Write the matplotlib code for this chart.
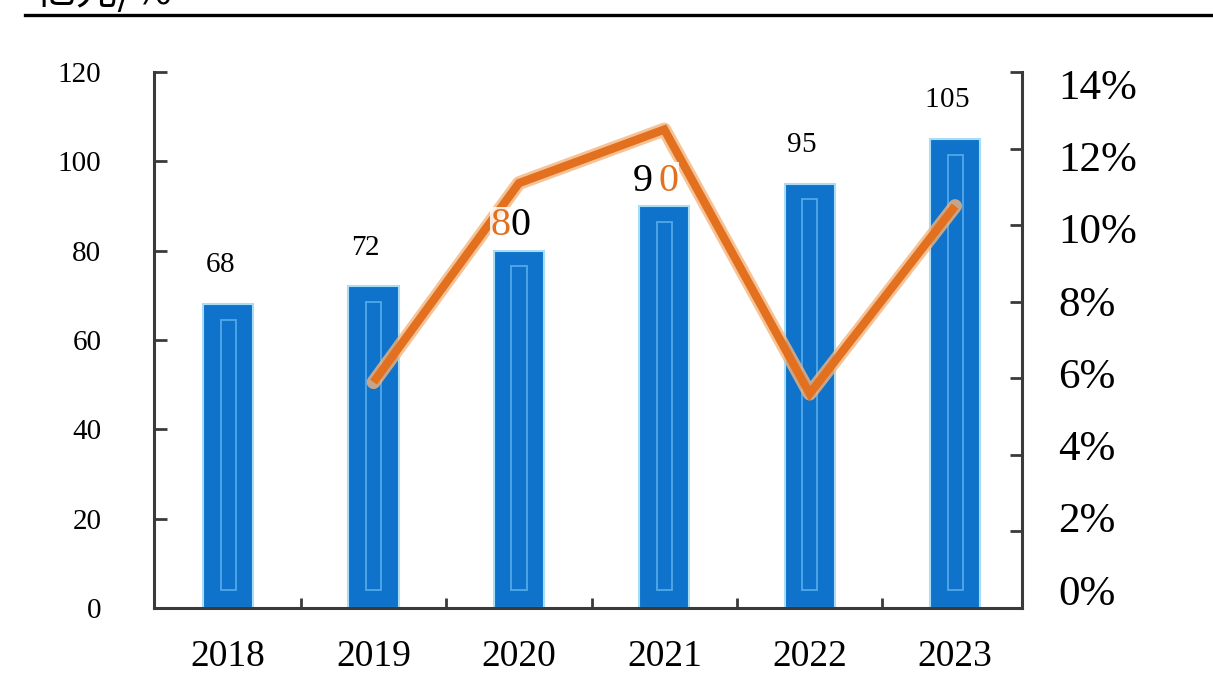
import matplotlib
matplotlib.use("Agg")
import matplotlib.pyplot as plt
from matplotlib.patches import Rectangle
from matplotlib.lines import Line2D
from matplotlib.offsetbox import TextArea, HPacker, AnnotationBbox
import numpy as np

# Market size (left axis) and year-on-year growth (right axis, %)
years = ["2018", "2019", "2020", "2021", "2022", "2023"]
scale = [68, 72, 80, 90, 95, 105]
growth_years = ["2019", "2020", "2021", "2022", "2023"]
growth = [5.9, 11.1, 12.5, 5.6, 10.5]
left_ticks = [0, 20, 40, 60, 80, 100, 120]
right_ticks = [0, 2, 4, 6, 8, 10, 12, 14]
unit_text = "亿元/%"

plt.rcParams['font.family'] = ['Liberation Serif', 'DejaVu Serif']

BAR = '#1073CB'
BAR_EDGE = '#A8DDF5'
INNER = '#52A9EA'
LINE = '#E2701E'
GLOW = '#F3B47C'
SPINE = '#3a3a3a'

fig = plt.figure(figsize=(12.13, 6.74), dpi=100)
fig.patch.set_facecolor('white')
ax = fig.add_axes([0.127, 0.098, 0.7155, 0.795])
ax2 = ax.twinx()
ax3 = ax.twinx()  # carries the percentage labels only

x = np.arange(len(years))
bar_w = 0.345
ax.bar(x, scale, width=bar_w, color=BAR, edgecolor=BAR_EDGE,
       linewidth=1.5, zorder=2)
# lighter inner outline on each bar
for xi, v in zip(x, scale):
    ax.add_patch(Rectangle((xi - 0.052, 4), 0.104, v - 7.5, fill=False,
                           edgecolor=INNER, linewidth=1.3, zorder=3))

ax.set_xlim(-0.51, len(years) - 0.54)
ax.set_ylim(0, 120)
ax.set_yticks(left_ticks)
ax.set_yticklabels([str(t) for t in left_ticks])
ax.tick_params(axis='y', direction='in', length=9, width=2, color=SPINE,
               labelsize=21, pad=38)
ax.set_xticks(x)
ax.set_xticklabels(years)
ax.set_xticks(np.arange(len(years) - 1) + 0.5, minor=True)
ax.tick_params(axis='x', which='major', length=0, labelsize=27, pad=23)
ax.tick_params(axis='x', which='minor', direction='in', length=7, width=2,
               color=SPINE)
for s in ['top', 'right']:
    ax.spines[s].set_visible(False)
for s in ['left', 'bottom']:
    ax.spines[s].set_color(SPINE)
    ax.spines[s].set_linewidth(2.2)

# growth line with soft glow
gx = [years.index(y) for y in growth_years]
ax2.plot(gx, growth, color=GLOW, lw=10, alpha=0.8,
         solid_joinstyle='round', solid_capstyle='round', zorder=2)
ax2.plot(gx, growth, color=LINE, lw=6, solid_joinstyle='miter',
         solid_capstyle='butt', zorder=3)
ax2.set_ylim(0, 14)
ax2.set_yticks(right_ticks)
ax2.set_yticklabels([])
ax2.tick_params(axis='y', direction='in', length=9, width=2, color=SPINE)
for s in ['top', 'left', 'bottom']:
    ax2.spines[s].set_visible(False)
ax2.spines['right'].set_color(SPINE)
ax2.spines['right'].set_linewidth(2.2)

# percentage labels, set slightly tighter than the tick marks
ax3.set_ylim(-0.5, 14.33)
ax3.set_yticks(right_ticks)
ax3.set_yticklabels([f"{t}%" for t in right_ticks])
ax3.tick_params(axis='y', length=0, labelsize=31, pad=26)
for s in ax3.spines.values():
    s.set_visible(False)

# value labels above the bars; some digits are set in orange
accent = {"2020": [0], "2021": [1]}
for xi, yr, v in zip(x, years, scale):
    big = yr in accent
    fs = 29 if big else 21
    dy = 18 if big else 28
    s = str(v)
    parts = [TextArea(ch, textprops=dict(
                 fontsize=fs,
                 color=LINE if i in accent.get(yr, []) else 'black'))
             for i, ch in enumerate(s)]
    pack = HPacker(children=parts, pad=0, sep=4 if yr == "2021" else 0,
                   align='baseline')
    ab = AnnotationBbox(pack, (xi, v), xycoords=ax.transData,
                        xybox=(-6, dy), boxcoords='offset points',
                        frameon=True, pad=0.1, zorder=5,
                        bboxprops=dict(boxstyle='square,pad=0.05',
                                       fc='white', ec='none', alpha=0.85))
    ax2.add_artist(ab)

# header rule and unit caption
fig.add_artist(Line2D([25 / 1213, 1.0], [1 - 15 / 674] * 2, color='black',
                      lw=2.4, transform=fig.transFigure))
fig.text(35 / 1213, 1 - 4 / 674, unit_text,
         family=['Noto Sans CJK SC', 'DejaVu Sans'], fontsize=30,
         va='baseline', ha='left', color='black')

fig.savefig('out.png', dpi=100, facecolor='white')
